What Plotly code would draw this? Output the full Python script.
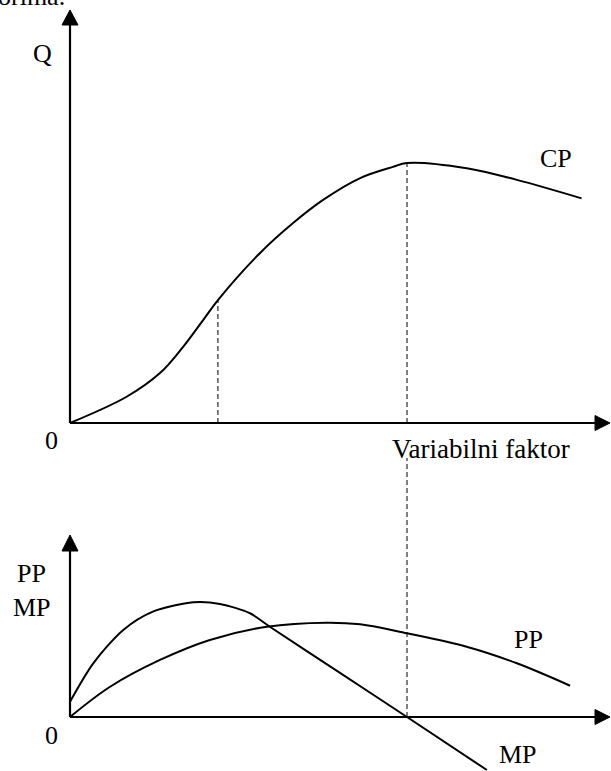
import plotly.graph_objects as go

# ---- data (variable factor units) ----
cp_x = [0, 1.68, 2.67, 3.35, 3.95, 4.39, 5.64, 6.62, 7.51, 8.61, 9.58, 10.0, 11.77, 13.26, 15.18]
cp_y = [0, 10.1, 19.2, 29.2, 39.6, 47.3, 65.4, 76.9, 85.8, 94.2, 98.5, 100.0, 98.0, 93.5, 86.4]

mp_x = [0, 0.69, 1.58, 2.46, 3.66, 4.45, 5.34, 5.93, 8.0, 10.0, 12.37]
mp_y = [13.3, 46.7, 75.7, 91.6, 99.7, 98.3, 90.2, 78.5, 38.6, 0.0, -46.1]

pp_x = [0, 1.19, 2.67, 4.15, 5.84, 7.62, 8.61, 10.0, 11.77, 13.26, 14.84]
pp_y = [0, 26.3, 49.6, 67.0, 78.5, 82.0, 80.6, 72.8, 61.1, 46.7, 27.2]

x_inflection = 4.39
x_max = 10.0
cp_at_inflection = 47.3
cp_at_max = 100.0

W, H = 611, 771
SPLIT = 450  # pixel row dividing the two panels

# pixel->data helpers
def xd(px):
    return (px - 70) / 33.7

def yt(py):
    return (423 - py) / 2.6

def yb(py):
    return (717 - py) / 1.15

fig = go.Figure()
line = dict(color="black", width=2)
fig.add_trace(go.Scatter(x=cp_x, y=cp_y, mode="lines", line=dict(shape="spline", **line),
                         xaxis="x", yaxis="y", hoverinfo="skip"))
fig.add_trace(go.Scatter(x=mp_x, y=mp_y, mode="lines", line=dict(shape="spline", smoothing=0.8, **line),
                         xaxis="x2", yaxis="y2", hoverinfo="skip"))
fig.add_trace(go.Scatter(x=pp_x, y=pp_y, mode="lines", line=dict(shape="spline", **line),
                         xaxis="x2", yaxis="y2", hoverinfo="skip"))

shapes = []
ax_line = dict(color="black", width=2.2)
dash = dict(color="black", width=1, dash="5px,3px")

# top panel axes
shapes.append(dict(type="line", xref="x", yref="y", x0=0, y0=0, x1=0, y1=yt(24), line=ax_line))
shapes.append(dict(type="line", xref="x", yref="y", x0=0, y0=0, x1=xd(596), y1=0, line=ax_line))
hw = 8 / 33.7
shapes.append(dict(type="path", xref="x", yref="y",
                   path=f"M {-hw},{yt(25)} L 0,{yt(10)} L {hw},{yt(25)} Z",
                   fillcolor="black", line=dict(color="black", width=1)))
shapes.append(dict(type="path", xref="x", yref="y",
                   path=f"M {xd(595)},{7.5/2.6} L {xd(610)},0 L {xd(595)},{-7.5/2.6} Z",
                   fillcolor="black", line=dict(color="black", width=1)))
# top dashed lines
shapes.append(dict(type="line", xref="x", yref="y", x0=x_inflection, y0=0, x1=x_inflection, y1=cp_at_inflection, line=dash))
shapes.append(dict(type="line", xref="x", yref="y", x0=x_max, y0=0, x1=x_max, y1=cp_at_max, line=dash))

# bottom panel axes
shapes.append(dict(type="line", xref="x2", yref="y2", x0=0, y0=0, x1=0, y1=yb(551), line=ax_line))
shapes.append(dict(type="line", xref="x2", yref="y2", x0=0, y0=0, x1=xd(596), y1=0, line=ax_line))
shapes.append(dict(type="path", xref="x2", yref="y2",
                   path=f"M {-hw},{yb(551)} L 0,{yb(535)} L {hw},{yb(551)} Z",
                   fillcolor="black", line=dict(color="black", width=1)))
shapes.append(dict(type="path", xref="x2", yref="y2",
                   path=f"M {xd(595)},{7.5/1.15} L {xd(610)},0 L {xd(595)},{-7.5/1.15} Z",
                   fillcolor="black", line=dict(color="black", width=1)))
shapes.append(dict(type="line", xref="x2", yref="y2", x0=x_max, y0=0, x1=x_max, y1=yb(458), line=dash))

FONT = dict(family="Liberation Serif, Times New Roman, serif", size=26, color="black")

def label(text, px, py, xanchor="center", size=26):
    f = dict(FONT)
    f["size"] = size
    return dict(text=text, x=px / W, y=1 - py / H, xref="paper", yref="paper",
                showarrow=False, xanchor=xanchor, yanchor="middle", font=f)

annotations = [
    label("orima.", -4, -4, xanchor="left"),
    label("Q", 42, 54),
    label("0", 51, 440),
    label("Variabilni faktor", 481, 449, size=27),
    label("CP", 556, 159),
    label("PP", 31, 573),
    label("MP", 32, 607),
    label("0", 51, 735),
    label("PP", 528, 639),
    label("MP", 518, 754),
]

top_dom = [1 - SPLIT / H, 1]
bot_dom = [0, 1 - SPLIT / H]
xr = [xd(0), xd(W)]
hidden = dict(visible=False, showgrid=False, zeroline=False, fixedrange=True)

fig.update_layout(
    width=W, height=H,
    margin=dict(l=0, r=0, t=0, b=0),
    paper_bgcolor="white", plot_bgcolor="white",
    showlegend=False,
    xaxis=dict(domain=[0, 1], range=xr, anchor="y", **hidden),
    yaxis=dict(domain=top_dom, range=[yt(SPLIT), yt(0)], anchor="x", **hidden),
    xaxis2=dict(domain=[0, 1], range=xr, anchor="y2", **hidden),
    yaxis2=dict(domain=bot_dom, range=[yb(H), yb(SPLIT)], anchor="x2", **hidden),
    shapes=shapes,
    annotations=annotations,
)

fig.write_html(
    "out.html",
    config={"displayModeBar": False},
    post_script="document.body.style.margin='0px';document.body.style.overflow='hidden';",
)
